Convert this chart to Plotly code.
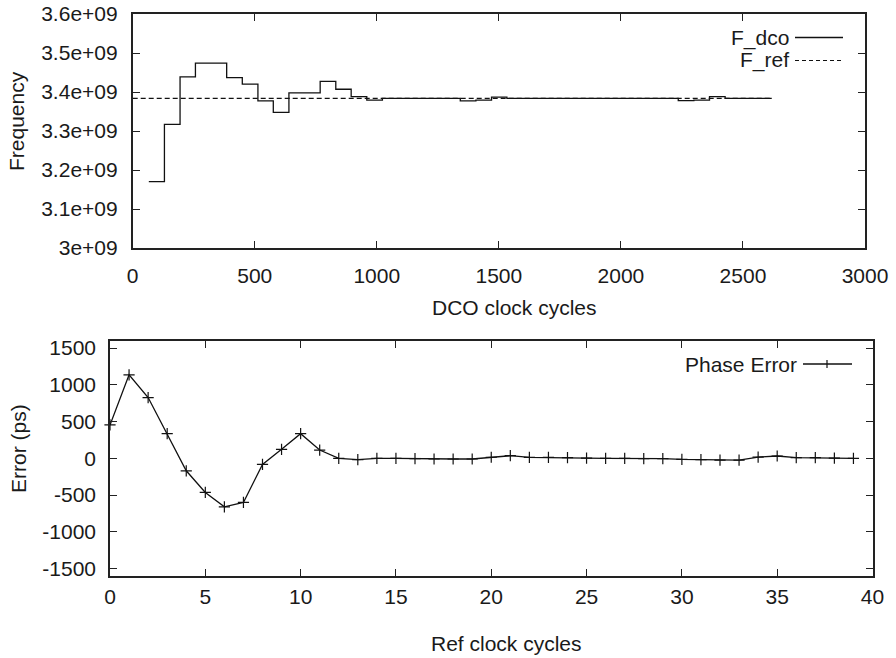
import plotly.graph_objects as go

W, H = 896, 658

# ---------------- data ----------------
# top: DCO frequency step trace (boundaries in DCO clock cycles, levels in Hz)
dco_bounds = [66, 130, 194, 257, 321, 385, 449, 513, 576, 640, 704, 768, 832, 895,
              959, 1023, 1087, 1151, 1214, 1278, 1342, 1406, 1470, 1533, 1597, 1661,
              1725, 1789, 1852, 1916, 1980, 2044, 2108, 2171, 2235, 2299, 2363, 2427,
              2490, 2554, 2618]
dco_levels = [3.170e9, 3.317e9, 3.439e9, 3.474e9, 3.474e9, 3.437e9, 3.420e9, 3.377e9,
              3.348e9, 3.398e9, 3.398e9, 3.427e9, 3.407e9, 3.388e9, 3.379e9, 3.3835e9,
              3.3835e9, 3.3835e9, 3.3835e9, 3.3835e9, 3.377e9, 3.379e9, 3.387e9, 3.3835e9,
              3.3835e9, 3.3835e9, 3.3835e9, 3.3835e9, 3.3835e9, 3.3835e9, 3.3835e9,
              3.3835e9, 3.3835e9, 3.3835e9, 3.378e9, 3.379e9, 3.388e9, 3.3835e9,
              3.3835e9, 3.3835e9]
ref_x = [0, 2618]
ref_freq = [3.3835e9, 3.3835e9]

# bottom: phase error per reference clock cycle (ps)
ref_cycles = list(range(40))
phase_err = [454, 1136, 827, 336, -169, -464, -660, -600, -82, 123, 336, 113, 0, -18,
             0, 0, -5, -9, -9, -9, 15, 36, 13, 13, 9, 4, 0, 0, -5, -5, -14, -18, -23,
             -23, 18, 32, 9, 9, 4, 0]

top_xticks = [0, 500, 1000, 1500, 2000, 2500, 3000]
top_yticks = [3.0e9, 3.1e9, 3.2e9, 3.3e9, 3.4e9, 3.5e9, 3.6e9]
top_ylabels = ["3e+09", "3.1e+09", "3.2e+09", "3.3e+09", "3.4e+09", "3.5e+09", "3.6e+09"]
bot_xticks = [0, 5, 10, 15, 20, 25, 30, 35, 40]
bot_yticks = [-1500, -1000, -500, 0, 500, 1000, 1500]
bot_ylabels = ["-1500", "-1000", "-500", "0", "500", "1000", "1500"]

# ---------------- helpers ----------------
def px(x):
    return x / W

def py(y):
    return 1 - y / H

FONT = "Liberation Sans, Arial, Helvetica, sans-serif"
FS = 21
TXT = "#1a1a1a"
LINE = "#111111"

fig = go.Figure()

fig.add_trace(go.Scatter(
    x=dco_bounds, y=dco_levels + [dco_levels[-1]], mode="lines", line_shape="hv",
    line=dict(color=LINE, width=1.3), xaxis="x", yaxis="y", showlegend=False))
fig.add_trace(go.Scatter(
    x=ref_x, y=ref_freq, mode="lines",
    line=dict(color=LINE, width=1.2, dash="5px,3px"), xaxis="x", yaxis="y",
    showlegend=False))
fig.add_trace(go.Scatter(
    x=ref_cycles, y=phase_err, mode="lines+markers",
    line=dict(color=LINE, width=1.3),
    marker=dict(symbol="cross-thin", size=8, line=dict(color=LINE, width=1.2)),
    xaxis="x2", yaxis="y2", showlegend=False, cliponaxis=False))

axis_common = dict(showline=True, linecolor="#222222", linewidth=1.6, mirror="allticks",
                   ticks="inside", ticklen=7, tickwidth=1.2, tickcolor="#222222",
                   showgrid=False, zeroline=False, automargin=False,
                   tickfont=dict(family=FONT, size=FS, color=TXT))

top_dom_x = [px(132.7), px(865)]
top_dom_y = [py(248), py(14)]
bot_dom_x = [px(110), px(872.5)]
bot_dom_y = [py(576), py(340.7)]

fig.update_layout(
    width=W, height=H, autosize=False,
    margin=dict(l=0, r=0, t=0, b=0, autoexpand=False),
    paper_bgcolor="white", plot_bgcolor="white",
    showlegend=False,
    xaxis=dict(domain=top_dom_x, anchor="y", range=[0, 3000], tickvals=top_xticks,
               ticklabelstandoff=8, **axis_common),
    yaxis=dict(domain=top_dom_y, anchor="x", range=[3.0e9, 3.6e9], tickvals=top_yticks,
               ticktext=top_ylabels, ticklabelstandoff=9, **axis_common),
    xaxis2=dict(domain=bot_dom_x, anchor="y2", range=[0, 40], tickvals=bot_xticks,
                ticklabelstandoff=1, **axis_common),
    yaxis2=dict(domain=bot_dom_y, anchor="x2", range=[-1600, 1600], tickvals=bot_yticks,
                ticktext=bot_ylabels, ticklabelstandoff=8, **axis_common),
)

annots = [
    dict(text="Frequency", x=px(17), y=py(121), textangle=-90),
    dict(text="Error (ps)", x=px(18), y=py(449), textangle=-90),
    dict(text="DCO clock cycles", x=px(514), y=py(307)),
    dict(text="Ref clock cycles", x=px(506), y=py(643)),
    dict(text="F_dco", x=px(791), y=py(37.5), xanchor="right"),
    dict(text="F_ref", x=px(791), y=py(60.5), xanchor="right"),
    dict(text="Phase Error", x=px(799), y=py(364), xanchor="right"),
]
for a in annots:
    base = dict(xref="paper", yref="paper", showarrow=False, xanchor="center",
                yanchor="middle", font=dict(family=FONT, size=FS, color=TXT))
    base.update(a)
    fig.add_annotation(**base)

# legend keys (decorations in paper space)
fig.add_shape(type="line", xref="paper", yref="paper", x0=px(795), x1=px(843),
              y0=py(37.5), y1=py(37.5), line=dict(color=LINE, width=1.3))
fig.add_shape(type="line", xref="paper", yref="paper", x0=px(795), x1=px(843),
              y0=py(60.5), y1=py(60.5), line=dict(color=LINE, width=1.2, dash="4px,3px"))
fig.add_shape(type="line", xref="paper", yref="paper", x0=px(803), x1=px(852),
              y0=py(364), y1=py(364), line=dict(color=LINE, width=1.3))
fig.add_shape(type="line", xref="paper", yref="paper", x0=px(827), x1=px(827),
              y0=py(360), y1=py(368), line=dict(color=LINE, width=1.2))

fig.write_html("out.html")
